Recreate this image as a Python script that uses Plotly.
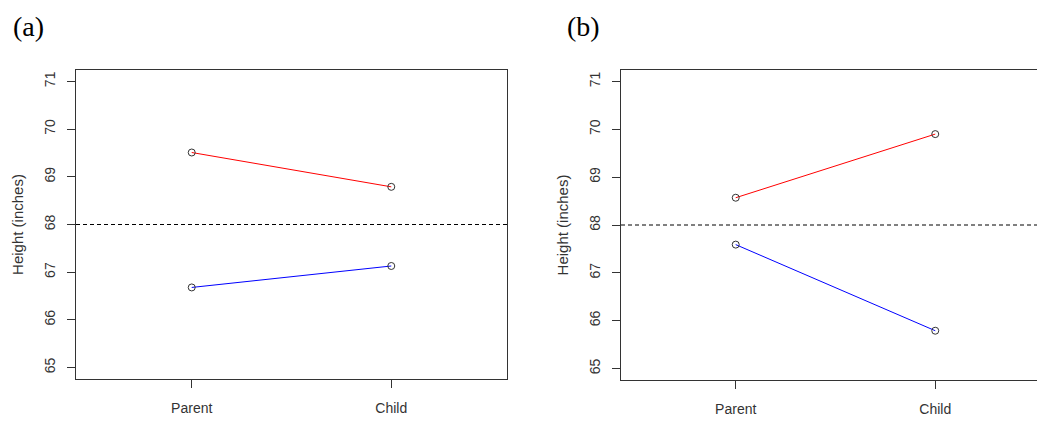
import plotly.graph_objects as go

categories = ["Parent", "Child"]
a_red = [69.51, 68.79]
a_blue = [66.68, 67.13]
b_red = [68.57, 69.90]
b_blue = [67.59, 65.79]
y_ticks = [65, 66, 67, 68, 69, 70, 71]
ref_line = 68

# the page body has an 8px margin, so the figure is drawn offset by 8px
OFF = 8
W, H = 1045 - OFF, 421 - OFF
fig = go.Figure()

def add_panel(fig, red, blue, xa, ya):
    for vals, col in ((red, "#ff0000"), (blue, "#0000ff")):
        fig.add_trace(go.Scatter(x=categories, y=vals, mode="lines",
                                 line=dict(color=col, width=1),
                                 xaxis=xa, yaxis=ya, showlegend=False, hoverinfo="skip"))
    for vals in (red, blue):
        fig.add_trace(go.Scatter(x=categories, y=vals, mode="markers",
                                 marker=dict(symbol="circle-open", size=7, color="#333",
                                             line=dict(width=1, color="#333")),
                                 xaxis=xa, yaxis=ya, showlegend=False))

add_panel(fig, a_red, a_blue, "x", "y")
add_panel(fig, b_red, b_blue, "x2", "y2")

def px_x(p):
    return (p - OFF) / W

def px_y(p):
    return 1 - (p - OFF) / H

ydom_a = [px_y(379), px_y(70)]
ydom_b = [px_y(380), px_y(70)]

tick_font = dict(family="Liberation Sans, Arial", size=14, color="#333")
common_x = dict(type="category", categoryorder="array", categoryarray=categories,
                showgrid=False, zeroline=False, showline=True, linecolor="#333", linewidth=1,
                ticks="outside", ticklen=8, tickcolor="#333", tickwidth=1,
                tickfont=tick_font, ticklabelstandoff=8)
common_y = dict(range=[64.76, 71.24], tickvals=y_ticks, showgrid=False, zeroline=False,
                showline=True, linecolor="#333", linewidth=1,
                ticks="outside", ticklen=8, tickcolor="#333", tickwidth=1, tickangle=-90,
                tickfont=tick_font, ticklabelstandoff=6,
                title=dict(text="Height (inches)", standoff=15,
                           font=dict(family="Liberation Sans, Arial", size=15, color="#333")))

fig.update_layout(
    width=W, height=H, margin=dict(l=0, r=0, t=0, b=0),
    paper_bgcolor="white", plot_bgcolor="white",
    xaxis=dict(domain=[px_x(76), px_x(507)], range=[-0.58, 1.58], anchor="y", mirror=True, **common_x),
    yaxis=dict(domain=ydom_a, anchor="x", mirror=True, **common_y),
    xaxis2=dict(domain=[px_x(621), 1.0], range=[-0.575, 1.55], anchor="y2", mirror=True, **common_x),
    yaxis2=dict(domain=ydom_b, anchor="x2", mirror=False, **common_y),
)

for xa, ya in (("x", "y"), ("x2", "y2")):
    fig.add_shape(type="line", xref=f"{xa} domain", yref=ya, x0=0, x1=1, y0=ref_line, y1=ref_line,
                  line=dict(color="black", width=1, dash="4px,3px"))

for label, xpix in (("(a)", 11), ("(b)", 565)):
    fig.add_annotation(text=label, x=px_x(xpix), y=px_y(26), xref="paper", yref="paper",
                       xanchor="left", yanchor="middle", showarrow=False,
                       font=dict(family="Liberation Serif, DejaVu Serif", size=28, color="black"))

fig.write_html("out.html")
